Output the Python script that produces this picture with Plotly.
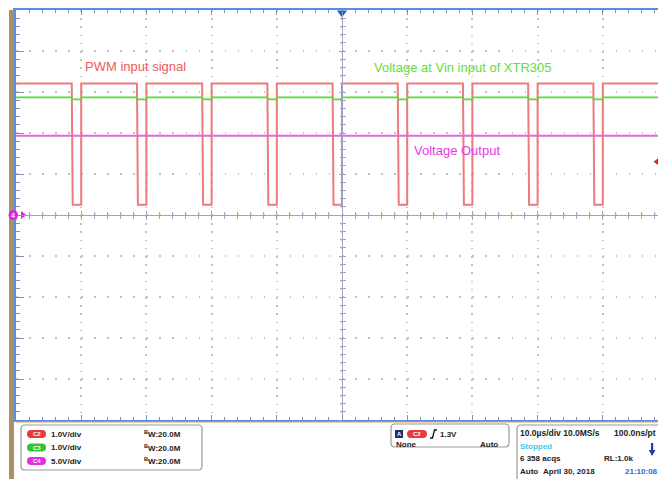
import plotly.graph_objects as go

# ---------------- data ----------------
time_per_div_us = 10.0
pwm_rise_us = [-40, -30, -20, -10, 0, 10, 20, 30, 40]   # C2 rising edges (trigger at 0)
pwm_low_width_us = 1.45
pwm_fall_time_us = 0.15
pwm_high_v = 3.21
pwm_low_v = 0.25
vin_level_v = 2.87
vin_dip_v = 2.82
vout_level_v = 9.67
trigger_level_v = 1.3

channel_names = ["C2", "C3", "C4"]
channel_scales = ["1.0V/div", "1.0V/div", "5.0V/div"]
channel_bw = ["20.0M", "20.0M", "20.0M"]
channel_colors = ["#e83a3a", "#33c433", "#e030e0"]

labels = ["PWM input signal", "Voltage at Vin input of XTR305", "Voltage Output"]

# ---------------- geometry helpers (screen pixels -> paper) ----------------
W, H = 658, 479
SL, ST, SB = 16, 10, 420              # plot area edges on screen
L, T, B = SL, ST, H - SB
PW, PH = W - L, SB - ST
DIV_PX = 65.2                         # horizontal division in pixels
x_left = -5 * time_per_div_us
x_right = x_left + PW / DIV_PX * time_per_div_us


def px(x):
    return (x - SL) / PW


def py(y):
    return (SB - y) / PH


def rrect(x0, y0, x1, y1, r):
    pts = [("M", x0 + r, y0), ("L", x1 - r, y0), ("Q", x1, y0, x1, y0 + r),
           ("L", x1, y1 - r), ("Q", x1, y1, x1 - r, y1), ("L", x0 + r, y1),
           ("Q", x0, y1, x0, y1 - r), ("L", x0, y0 + r), ("Q", x0, y0, x0 + r, y0)]
    s = ""
    for p in pts:
        c = p[0]
        coords = p[1:]
        segs = []
        for i in range(0, len(coords), 2):
            segs.append(f"{px(coords[i]):.5f},{py(coords[i+1]):.5f}")
        s += c + " ".join(segs) + " "
    return s + "Z"


def poly(points, close=True):
    s = "M" + " L".join(f"{px(a):.5f},{py(b):.5f}" for a, b in points)
    return s + (" Z" if close else "")


# ---------------- build waveforms from the values ----------------
pwm_t, pwm_v = [x_left], [pwm_high_v]
vin_t, vin_v = [x_left], [vin_level_v]
for r in pwm_rise_us:
    f = r - pwm_low_width_us
    pwm_t += [f, f + pwm_fall_time_us, r, r]
    pwm_v += [pwm_high_v, pwm_low_v, pwm_low_v, pwm_high_v]
    vin_t += [f, f + 0.1, r, r + 0.1]
    vin_v += [vin_level_v, vin_dip_v, vin_dip_v, vin_level_v]
pwm_t.append(x_right + 1)
pwm_v.append(pwm_high_v)
vin_t.append(x_right + 1)
vin_v.append(vin_level_v)

fig = go.Figure()

# C2 PWM
fig.add_trace(go.Scatter(x=pwm_t, y=pwm_v, mode="lines",
                         line=dict(color="#ef7a7a", width=2), hoverinfo="skip"))
# C3 Vin
fig.add_trace(go.Scatter(x=vin_t, y=vin_v, mode="lines",
                         line=dict(color="#55dd33", width=1.7), hoverinfo="skip"))
# C4 output (5 V/div axis)
fig.add_trace(go.Scatter(x=[x_left, x_right + 1], y=[vout_level_v, vout_level_v], mode="lines",
                         line=dict(color="#e466e4", width=2), yaxis="y2", hoverinfo="skip"))

# center-cross axes carriers
for xa, ya in [("x2", "y"), ("x3", "y"), ("x", "y3"), ("x", "y4")]:
    fig.add_trace(go.Scatter(x=[None], y=[None], xaxis=xa, yaxis=ya, hoverinfo="skip"))

# markers: trigger position, trigger level, C4 ground arrow
fig.add_trace(go.Scatter(x=[0], y=[4.93], mode="markers", cliponaxis=False,
                         marker=dict(symbol="triangle-down", size=9, color="#1f5fd8"),
                         hoverinfo="skip"))
fig.add_trace(go.Scatter(x=[48.4], y=[trigger_level_v], mode="markers", cliponaxis=False,
                         marker=dict(symbol="triangle-left", size=8, color="#e52222"),
                         hoverinfo="skip"))
fig.add_trace(go.Scatter(x=[-48.95], y=[0], mode="markers", cliponaxis=False, yaxis="y2",
                         marker=dict(symbol="triangle-right", size=7, color="#e020e0"),
                         hoverinfo="skip"))

border = "#5a8ee6"
tickc = "#8090b0"
gridc = "#c2c2c2"
centerc = "#a2a2c4"

fig.update_layout(
    width=W, height=H,
    margin=dict(l=L, r=0, t=T, b=B, pad=0),
    paper_bgcolor="white", plot_bgcolor="white",
    showlegend=False,
    font=dict(family="Arial, Liberation Sans", color="#222"),
    xaxis=dict(range=[x_left, x_right], domain=[0, 1], tick0=x_left, dtick=time_per_div_us,
               showgrid=True, gridcolor=gridc, gridwidth=1.5, griddash="1.5px,6.7px",
               zeroline=False, showline=True, linecolor=border, linewidth=2, mirror="ticks",
               ticks="inside", ticklen=5, tickcolor=tickc, tickwidth=1, showticklabels=False,
               minor=dict(dtick=2, tick0=x_left, ticks="inside", ticklen=3, tickcolor=tickc,
                          showgrid=False)),
    yaxis=dict(range=[-5, 5], domain=[0, 1], tick0=-5, dtick=1,
               showgrid=True, gridcolor=gridc, gridwidth=1.5, griddash="1.5px,11.54px",
               zeroline=False, showline=True, linecolor=border, linewidth=3,
               ticks="inside", ticklen=8, tickcolor=tickc, tickwidth=1, showticklabels=False,
               minor=dict(dtick=0.2, tick0=-5, ticks="inside", ticklen=4, tickcolor=tickc,
                          showgrid=False)),
    yaxis2=dict(range=[-25, 25], overlaying="y", anchor="x", visible=False),
    xaxis2=dict(range=[x_left, x_right], overlaying="x", anchor="free", position=0.5,
                showline=True, linecolor=centerc, linewidth=1, showgrid=False, zeroline=False,
                ticks="outside", ticklen=4, tickcolor=centerc, tick0=x_left, dtick=time_per_div_us,
                showticklabels=False,
                minor=dict(dtick=2, tick0=x_left, ticks="outside", ticklen=3, tickcolor=centerc)),
    xaxis3=dict(range=[x_left, x_right], overlaying="x", anchor="free", position=0.5,
                showline=False, showgrid=False, zeroline=False,
                ticks="inside", ticklen=4, tickcolor=centerc, tick0=x_left, dtick=time_per_div_us,
                showticklabels=False,
                minor=dict(dtick=2, tick0=x_left, ticks="inside", ticklen=3, tickcolor=centerc)),
    yaxis3=dict(range=[-5, 5], overlaying="y", anchor="free", position=px(342),
                showline=True, linecolor=centerc, linewidth=1, showgrid=False, zeroline=False,
                ticks="outside", ticklen=3, tickcolor=centerc, tick0=-5, dtick=1,
                showticklabels=False,
                minor=dict(dtick=0.2, tick0=-5, ticks="outside", ticklen=2.5, tickcolor=centerc)),
    yaxis4=dict(range=[-5, 5], overlaying="y", anchor="free", position=px(342),
                showline=False, showgrid=False, zeroline=False,
                ticks="inside", ticklen=3, tickcolor=centerc, tick0=-5, dtick=1,
                showticklabels=False,
                minor=dict(dtick=0.2, tick0=-5, ticks="inside", ticklen=2.5, tickcolor=centerc)),
)

shapes = []
# left olive strip
shapes.append(dict(type="rect", xref="paper", yref="paper", x0=px(9), x1=px(14),
                   y0=py(490), y1=py(ST), fillcolor="#a89263", line=dict(width=0), layer="above"))
# C4 ground-level marker (circle)
shapes.append(dict(type="circle", xref="paper", yref="paper", x0=px(8.5), x1=px(18),
                   y0=py(219.8), y1=py(210.2), fillcolor="#e020e0", line=dict(width=0),
                   layer="above"))
# thin orange line under bottom border
shapes.append(dict(type="line", xref="paper", yref="paper", x0=px(16), x1=px(670),
                   y0=py(422.3), y1=py(422.3), line=dict(color="#e8c89a", width=1)))
# panel boxes
for (x0, y0, x1, y1) in [(21, 425, 202, 470), (391, 424, 509, 447), (517, 425, 680, 495)]:
    shapes.append(dict(type="path", xref="paper", yref="paper", path=rrect(x0, y0, x1, y1, 4),
                       line=dict(color="#9a9a9a", width=1.2), fillcolor="white"))
# channel pills
rows_y = [434, 447.5, 461]
for c, yy in zip(channel_colors, rows_y):
    shapes.append(dict(type="path", xref="paper", yref="paper",
                       path=rrect(27, yy - 4, 46, yy + 4, 4),
                       line=dict(width=0), fillcolor=c))
# trigger box: source icon, pill, slope glyph
shapes.append(dict(type="rect", xref="paper", yref="paper", x0=px(395), x1=px(403),
                   y0=py(438), y1=py(430), fillcolor="#1c2f6e", line=dict(width=0)))
shapes.append(dict(type="path", xref="paper", yref="paper", path=rrect(407, 430, 427, 438, 4),
                   line=dict(width=0), fillcolor=channel_colors[0]))
shapes.append(dict(type="path", xref="paper", yref="paper",
                   path=poly([(430, 438), (432.5, 438), (434.5, 430), (437, 430)], close=False),
                   line=dict(color="#111", width=1.3)))
# "stopped" down arrow
shapes.append(dict(type="path", xref="paper", yref="paper",
                   path=poly([(651, 443), (653.2, 443), (653.2, 450), (655.5, 450), (652.1, 456),
                              (648.7, 450), (651, 450)]),
                   line=dict(width=0), fillcolor="#1a3fb0"))
fig.update_layout(shapes=shapes)

ann = []
# waveform labels
ann.append(dict(x=-39.7, y=3.61, xref="x", yref="y", text=labels[0], showarrow=False,
                xanchor="left", yanchor="middle", font=dict(size=13, color="#f05a5a")))
ann.append(dict(x=4.6, y=3.59, xref="x", yref="y", text=labels[1], showarrow=False,
                xanchor="left", yanchor="middle", font=dict(size=13, color="#66e033")))
ann.append(dict(x=10.7, y=1.58, xref="x", yref="y", text=labels[2], showarrow=False,
                xanchor="left", yanchor="middle", font=dict(size=13, color="#e83ae8")))


def txt(x, y, s, color="#222", size=8, anchor="left", bold=True):
    ann.append(dict(x=px(x), y=py(y), xref="paper", yref="paper",
                    text=f"<b>{s}</b>" if bold else s, showarrow=False,
                    xanchor=anchor, yanchor="middle", borderpad=0,
                    font=dict(size=size, color=color, family="Arial, Liberation Sans")))


# C4 ground marker label
txt(13.2, 215, "4", color="white", size=7, anchor="center")

for name, sc, bw, yy in zip(channel_names, channel_scales, channel_bw, rows_y):
    txt(36.5, yy, name, color="white", size=6, anchor="center")
    txt(50, yy, sc)
    txt(143, yy, f"<sup>B</sup>W:{bw}")

txt(399, 434, "A", color="white", size=6, anchor="center")
txt(417, 434, "C2", color="white", size=6, anchor="center")
txt(439, 434, f"{trigger_level_v}V")
txt(395, 444, "None")
txt(499, 444, "Auto", anchor="right")

txt(519, 433, "10.0µs/div 10.0MS/s", size=8.5)
txt(613, 433, "100.0ns/pt", size=8.5)
txt(519, 446, "Stopped", color="#3cc8ee")
txt(519, 458.5, "6 358 acqs")
txt(603, 458.5, "RL:1.0k")
txt(519, 471, "Auto")
txt(542, 471, "April 30, 2018")
txt(624, 471, "21:10:08", color="#2a6ae0", size=8)

fig.update_layout(annotations=ann)

fig.write_html(
    "out.html",
    config={"displayModeBar": False},
    post_script="document.body.style.margin='0px';document.body.style.overflow='hidden';",
)
